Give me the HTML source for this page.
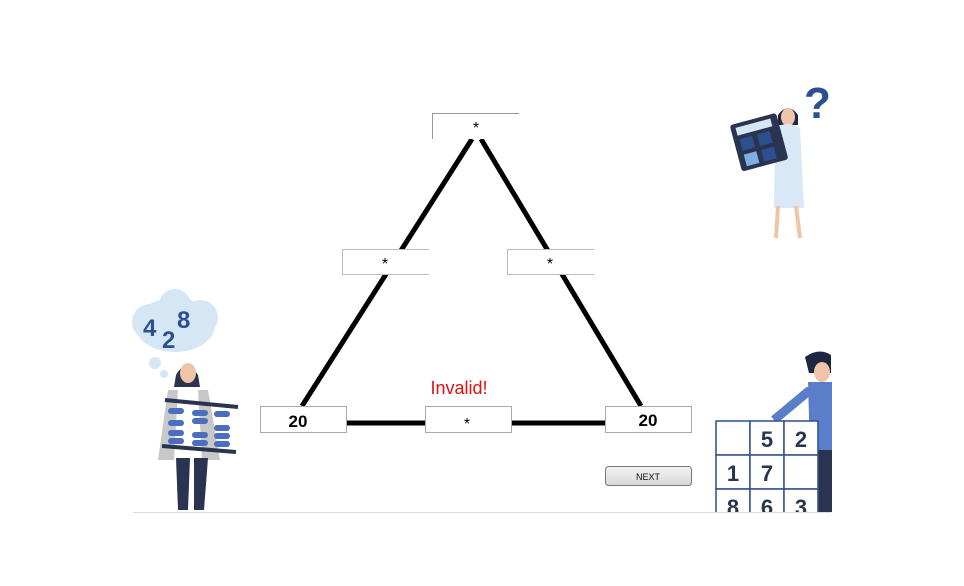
<!DOCTYPE html>
<html><head><meta charset="utf-8"><style>
html,body{margin:0;padding:0;background:#fff;width:964px;height:586px;overflow:hidden}
svg{display:block}
text{font-family:"Liberation Sans",sans-serif}
</style></head><body>
<svg width="964" height="586" viewBox="0 0 964 586" xmlns="http://www.w3.org/2000/svg">
<g stroke="#000" stroke-width="5" stroke-linecap="butt">
<line x1="472" y1="139" x2="302" y2="406"/>
<line x1="481" y1="139" x2="641" y2="406"/>
<line x1="346" y1="423" x2="425" y2="423"/>
<line x1="511" y1="423" x2="606" y2="423"/>
</g>
<rect x="432" y="113" width="87" height="26" fill="#fff"/>
<path d="M432.5 139 V113.5 H519" stroke="#999" fill="none"/>
<text x="476" y="133" font-size="16" text-anchor="middle">*</text>
<rect x="342" y="249" width="87" height="26" fill="#fff"/>
<path d="M429 249.5 H342.5 V274.5 H429" stroke="#bbb" fill="none"/>
<text x="385" y="269" font-size="16" text-anchor="middle">*</text>
<rect x="507" y="249" width="87" height="26" fill="#fff"/>
<path d="M594 249.5 H507.5 V274.5 H594" stroke="#bbb" fill="none"/>
<text x="550" y="269" font-size="16" text-anchor="middle">*</text>
<rect x="260.5" y="406.5" width="86" height="26" fill="#fff" stroke="#aaa"/>
<text x="298" y="427" font-size="17" font-weight="bold" text-anchor="middle">20</text>
<rect x="425.5" y="406.5" width="86" height="26" fill="#fff" stroke="#aaa"/>
<text x="467" y="429" font-size="16" text-anchor="middle">*</text>
<rect x="605.5" y="406.5" width="86" height="26" fill="#fff" stroke="#aaa"/>
<text x="648" y="426" font-size="17" font-weight="bold" text-anchor="middle">20</text>
<text x="459" y="394" font-size="18" fill="#e01010" text-anchor="middle">Invalid!</text>
<defs><linearGradient id="g" x1="0" y1="0" x2="0" y2="1"><stop offset="0" stop-color="#f4f4f4"/><stop offset="1" stop-color="#d8d8d8"/></linearGradient></defs>
<rect x="605.5" y="466.5" width="86" height="19" rx="3" fill="url(#g)" stroke="#777"/>
<text x="648" y="480" font-size="9" text-anchor="middle" fill="#111">NEXT</text>
<line x1="133" y1="512.5" x2="831" y2="512.5" stroke="#ddd"/>

<g fill="#d5e6f5">
<ellipse cx="175" cy="325" rx="40" ry="27"/>
<circle cx="150" cy="322" r="18"/><circle cx="200" cy="318" r="18"/><circle cx="175" cy="305" r="16"/>
<circle cx="155" cy="363" r="6"/><circle cx="164" cy="374" r="4"/>
</g>
<text x="143" y="336" font-size="24" font-weight="bold" fill="#2c4f8f">4</text>
<text x="162" y="348" font-size="24" font-weight="bold" fill="#2c4f8f">2</text>
<text x="177" y="328" font-size="24" font-weight="bold" fill="#2c4f8f">8</text>
<path d="M176 375 q10-18 22 0 l2 12 h-26z" fill="#2a3450"/>
<ellipse cx="188" cy="373" rx="8" ry="10" fill="#f0c4a8"/>
<path d="M168 390 h40 l12 70 h-62z" fill="#c8c8c8"/>
<path d="M178 390 h20 l4 70 h-28z" fill="#fff"/>
<path d="M176 458 h14 l-2 52 h-10z M194 458 h14 l-4 52 h-10z" fill="#2a3450"/>
<g stroke="#2a3450" stroke-width="4"><line x1="165" y1="400" x2="238" y2="407"/><line x1="162" y1="446" x2="236" y2="452"/></g>
<g fill="#4a6fbf">
<rect x="168" y="408" width="16" height="6" rx="3"/><rect x="168" y="420" width="16" height="6" rx="3"/><rect x="168" y="430" width="16" height="6" rx="3"/><rect x="168" y="438" width="16" height="6" rx="3"/>
<rect x="192" y="410" width="16" height="6" rx="3"/><rect x="192" y="418" width="16" height="6" rx="3"/><rect x="192" y="432" width="16" height="6" rx="3"/><rect x="192" y="440" width="16" height="6" rx="3"/>
<rect x="214" y="411" width="16" height="6" rx="3"/><rect x="214" y="425" width="16" height="6" rx="3"/><rect x="214" y="433" width="16" height="6" rx="3"/><rect x="214" y="441" width="16" height="6" rx="3"/>
</g>

<text x="804" y="118" font-size="44" font-weight="bold" fill="#2c4f8f">?</text>
<path d="M778 115 q10-14 20 0 l0 10 h-20z" fill="#1e2640"/>
<ellipse cx="788" cy="117" rx="7" ry="9" fill="#f0c4a8"/>
<path d="M775 128 q13-8 25 0 l4 80 h-30z" fill="#d9e8f7"/>
<path d="M778 206 l-2 32 M796 206 l4 32" stroke="#f0c4a8" stroke-width="4"/>
<g transform="rotate(-15 760 142)">
<rect x="735" y="118" width="48" height="48" rx="3" fill="#2a3450"/>
<rect x="740" y="122" width="36" height="8" fill="#d5e6f5"/>
<rect x="741" y="134" width="13" height="12" fill="#2c4f8f"/><rect x="759" y="134" width="13" height="12" fill="#2c4f8f"/>
<rect x="741" y="150" width="13" height="12" fill="#7fb0e0"/><rect x="759" y="150" width="13" height="12" fill="#2c4f8f"/>
</g>

<path d="M805 357 q14-10 26 -2 v18 h-22z" fill="#1e2640"/>
<ellipse cx="822" cy="372" rx="8" ry="10" fill="#f0c4a8"/>
<path d="M808 382 h24 v70 h-22z" fill="#5a7ec9"/>
<path d="M810 390 l-36 30" stroke="#5a7ec9" stroke-width="9"/>
<path d="M818 450 h14 v62 h-16z" fill="#2a3450"/>
<g fill="#fff" stroke="#2c4f8f" stroke-width="1.5">
<rect x="716" y="421" width="34" height="34"/><rect x="750" y="421" width="34" height="34"/><rect x="784" y="421" width="34" height="34"/>
<rect x="716" y="455" width="34" height="34"/><rect x="750" y="455" width="34" height="34"/><rect x="784" y="455" width="34" height="34"/>
<rect x="716" y="489" width="34" height="34"/><rect x="750" y="489" width="34" height="34"/><rect x="784" y="489" width="34" height="34"/>
</g>
<g font-size="22" font-weight="bold" fill="#2a3450" text-anchor="middle">
<text x="767" y="447">5</text><text x="801" y="447">2</text>
<text x="733" y="481">1</text><text x="767" y="481">7</text>
<text x="733" y="515">8</text><text x="767" y="515">6</text><text x="801" y="515">3</text>
</g>
<rect x="700" y="513" width="150" height="73" fill="#fff"/>
<line x1="700" y1="512.5" x2="831" y2="512.5" stroke="#ddd"/>
</svg>
</body></html>
